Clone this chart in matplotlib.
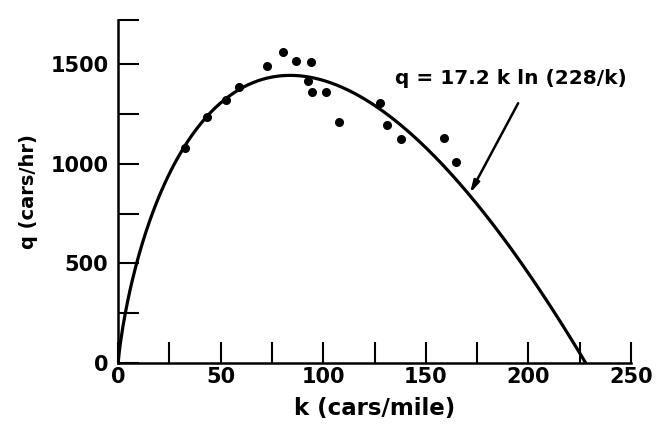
import matplotlib.pyplot as plt
import numpy as np

k_obs = [32.6, 43.2, 52.5, 59.0, 72.4, 80.5, 86.6, 94.0, 92.7, 94.3, 101.2,
         107.5, 127.6, 130.9, 137.7, 159.0, 164.6]
q_obs = [1078, 1236, 1320, 1383, 1492, 1562, 1515, 1512, 1415, 1361, 1361,
         1208, 1306, 1195, 1123, 1131, 1008]

# fitted model printed on the chart: q = 17.2 k ln(228/k)
uf = 17.2
kj = 228.0
fit_label = "q = 17.2 k ln (228/k)"

xticks = np.arange(0, 251, 25)
xlabels = ['0', '', '50', '', '100', '', '150', '', '200', '', '250']
yticks = [0, 250, 500, 750, 1000, 1250, 1500, 1720]
ylabels = ['0', '', '500', '', '1000', '', '1500', '']

k_fit = np.linspace(0.01, kj, 400)
q_fit = uf * k_fit * np.log(kj / k_fit)
k_fit = np.concatenate([[0], k_fit])
q_fit = np.concatenate([[0], q_fit])

fig = plt.figure(figsize=(6.6, 4.36), dpi=100, facecolor='w')
ax = fig.add_axes([0.179, 0.167, 0.777, 0.787])

ax.plot(k_fit, q_fit, 'k-', linewidth=2.3, solid_capstyle='butt')
ax.plot(k_obs, q_obs, 'o', markersize=5.5, color='k')

# arrow from the label down to the curve
ax.annotate('', xy=(171.5, 852), xytext=(195, 1303),
            arrowprops=dict(arrowstyle='-|>,head_length=0.7,head_width=0.18',
                            color='k', lw=1.8, shrinkA=0, shrinkB=0))
ax.text(135, 1425, fit_label, fontsize=14.5, fontweight='bold', ha='left', va='center')

ax.set_xlim(0, 250)
ax.set_ylim(0, 1720)
ax.set_xticks(xticks)
ax.set_xticklabels(xlabels, fontsize=15, fontweight='bold')
ax.set_yticks(yticks)
ax.set_yticklabels(ylabels, fontsize=15, fontweight='bold')
ax.tick_params(direction='in', length=15, width=1.5, pad=3)
ax.tick_params(axis='y', pad=7)

for s in ['top', 'right']:
    ax.spines[s].set_visible(False)
for s in ['left', 'bottom']:
    ax.spines[s].set_linewidth(1.8)

ax.set_xlabel('k (cars/mile)', fontsize=16.5, fontweight='bold', labelpad=7)
ax.set_ylabel('q (cars/hr)', fontsize=14, fontweight='bold', labelpad=9)

plt.savefig('out.png', dpi=100)
